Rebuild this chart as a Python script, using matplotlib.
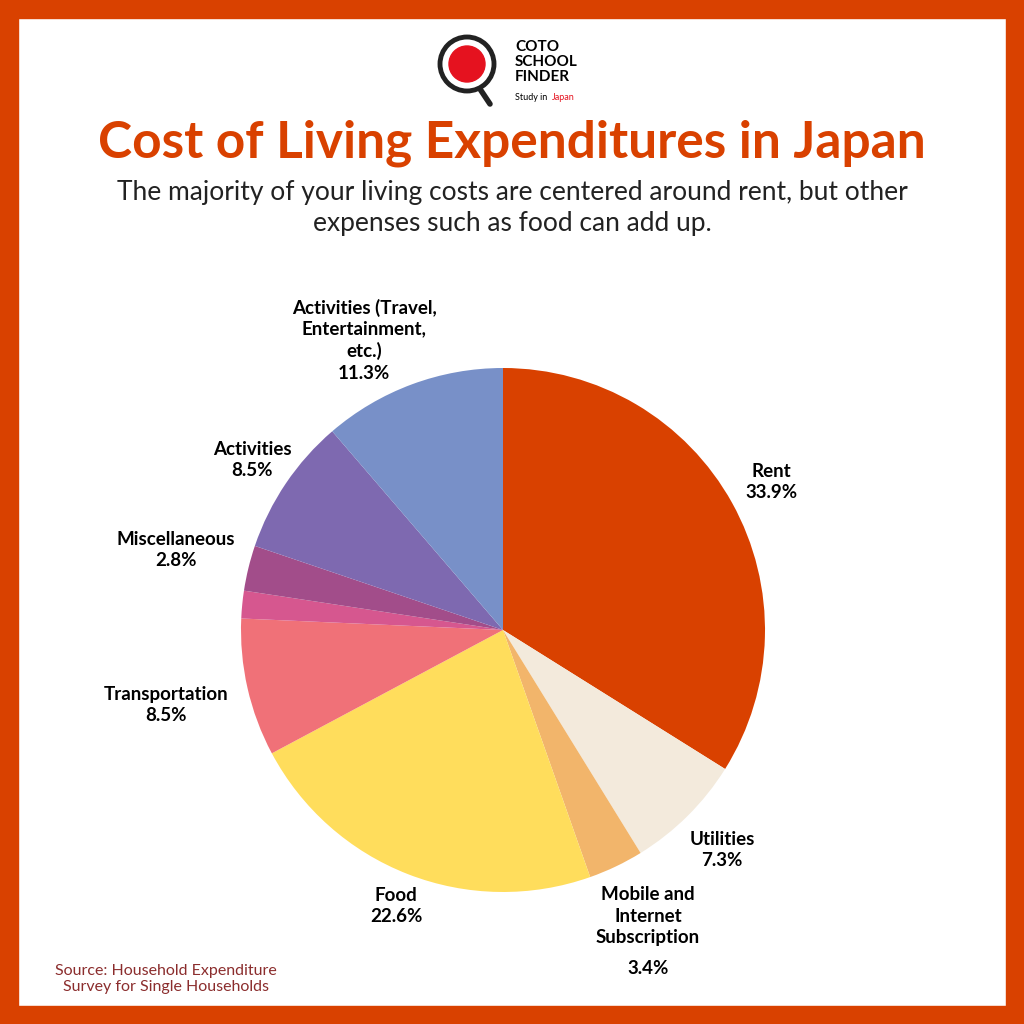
import matplotlib
matplotlib.use("Agg")
import matplotlib.pyplot as plt
from matplotlib.patches import Rectangle, Circle

categories = ["Rent", "Utilities", "Mobile and\nInternet\nSubscription", "Food", "Transportation",
              "Other", "Miscellaneous", "Activities", "Activities (Travel,\nEntertainment,\netc.)"]
values = [33.9, 7.3, 3.4, 22.6, 8.5, 1.7, 2.8, 8.5, 11.3]
colors = ["#D94100", "#F3EADC", "#F2B56B", "#FFDD5C", "#F07178", "#D6578F", "#A24D8A", "#7E69B0", "#7890C8"]
label_pos = {  # pixel positions of label centres
    "Rent": (771, 482), "Utilities": (722, 850), "Mobile and\nInternet\nSubscription": (648, 930),
    "Food": (396, 906), "Transportation": (166, 705), "Miscellaneous": (176, 550),
    "Activities": (252, 460), "Activities (Travel,\nEntertainment,\netc.)": (364, 340),
}

plt.rcParams['font.family'] = ['Lato', 'DejaVu Sans']
fig = plt.figure(figsize=(10.24, 10.24), dpi=100)
W = 1024.0
orange = "#D94100"
b = 18 / W
for r in [(0, 0, 1, b), (0, 1 - b, 1, b), (0, 0, b, 1), (1 - b, 0, b, 1)]:
    fig.patches.append(Rectangle(r[:2], r[2], r[3], transform=fig.transFigure, color=orange, zorder=0))

cx, cy, R = 503 / W, 1 - 630 / W, 262 / W
ax = fig.add_axes([cx - R, cy - R, 2 * R, 2 * R])
ax.pie(values, colors=colors, startangle=90, counterclock=False,
       wedgeprops=dict(linewidth=0))
ax.set_xlim(-1, 1); ax.set_ylim(-1, 1)
ax.set_aspect('equal')

for cat, v in zip(categories, values):
    if cat not in label_pos:
        continue
    x, y = label_pos[cat]
    if cat.startswith("Mobile"):
        fig.text(x / W, 1 - 916 / W, cat, ha='center', va='center', fontsize=13.5, fontweight='bold', linespacing=1.3)
        fig.text(x / W, 1 - 968 / W, f"{v}%", ha='center', va='center', fontsize=13.5, fontweight='bold')
    else:
        fig.text(x / W, 1 - y / W, f"{cat}\n{v}%", ha='center', va='center', fontsize=13.5,
                 fontweight='bold', linespacing=1.3)

# logo
lax = fig.add_axes([430 / W, 1 - 110 / W, 80 / W, 80 / W])
lax.set_xlim(0, 80); lax.set_ylim(0, 80); lax.axis('off')
lax.add_patch(Circle((37, 46), 27, fill=False, lw=3.5, color='#222222'))
lax.add_patch(Circle((37, 46), 18, color='#E5121F'))
lax.plot([50, 60], [21, 6], color='#222222', lw=4, solid_capstyle='round')
fig.text(515 / W, 1 - 62 / W, "COTO\nSCHOOL\nFINDER", ha='left', va='center', fontsize=11,
         fontweight='bold', linespacing=1.05)
fig.text(515 / W, 1 - 97 / W, "Study in ", ha='left', va='center', fontsize=6.5)
fig.text(552 / W, 1 - 97 / W, "Japan", ha='left', va='center', fontsize=6.5, color='#E5121F')

fig.text(0.5, 1 - 143 / W, "Cost of Living Expenditures in Japan", ha='center', va='center',
         fontsize=37, fontweight='bold', color=orange)
fig.text(0.5, 1 - 208 / W, "The majority of your living costs are centered around rent, but other\nexpenses such as food can add up.",
         ha='center', va='center', fontsize=19, color='#222222', linespacing=1.3)
fig.text(166 / W, 1 - 979 / W, "Source: Household Expenditure\nSurvey for Single Households", ha='center',
         va='center', fontsize=11.5, color='#8B2D2D', linespacing=1.2)

fig.savefig("out.png", dpi=100, facecolor='white')
